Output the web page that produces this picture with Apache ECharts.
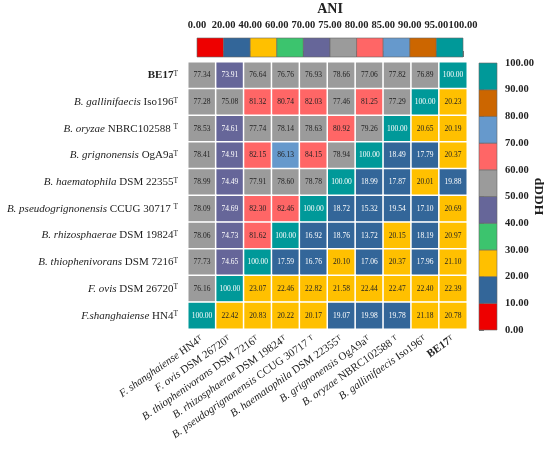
<!DOCTYPE html>
<html><head><meta charset="utf-8">
<script src="https://cdn.jsdelivr.net/npm/echarts@6/dist/echarts.min.js"></script>
<style>html,body{margin:0;padding:0;background:#fff}#c{width:550px;height:453px}</style>
</head><body><div id="c"></div>
<script>
// ---- data ----
const taxonSpecies = ['BE17','B. gallinifaecis','B. oryzae','B. grignonensis','B. haematophila','B. pseudogrignonensis','B. rhizosphaerae','B. thiophenivorans','F. ovis','F.shanghaiense'];
const taxonStrain = ['','Iso196','NBRC102588 ','OgA9a','DSM 22355','CCUG 30717 ','DSM 19824','DSM 7216','DSM 26720','HN4'];
const colSpecies = ['F. shanghaiense','F. ovis','B. thiophenivorans','B. rhizosphaerae','B. pseudogrignonensis','B. haematophila','B. grignonensis','B. oryzae','B. gallinifaecis','BE17'];
const colStrain = ['HN4','DSM 26720','DSM 7216','DSM 19824','CCUG 30717 ','DSM 22355','OgA9a','NBRC102588 ','Iso196',''];

const rowBE17 = [77.34,73.91,76.64,76.76,76.93,78.66,77.06,77.82,76.89,100.00];
const rowGallinifaecis = [77.28,75.08,81.32,80.74,82.03,77.46,81.25,77.29,100.00,20.23];
const rowOryzae = [78.53,74.61,77.74,78.14,78.63,80.92,79.26,100.00,20.65,20.19];
const rowGrignonensis = [78.41,74.91,82.15,86.13,84.15,78.94,100.00,18.49,17.79,20.37];
const rowHaematophila = [78.99,74.49,77.91,78.60,78.78,100.00,18.99,17.87,20.01,19.88];
const rowPseudogrignonensis = [78.09,74.69,82.30,82.46,100.00,18.72,15.32,19.54,17.10,20.69];
const rowRhizosphaerae = [78.06,74.73,81.62,100.00,16.92,18.76,13.72,20.15,18.19,20.97];
const rowThiophenivorans = [77.73,74.65,100.00,17.59,16.76,20.10,17.06,20.37,17.96,21.10];
const rowOvis = [76.16,100.00,23.07,22.46,22.82,21.58,22.44,22.47,22.40,22.39];
const rowShanghaiense = [100.00,22.42,20.83,20.22,20.17,19.07,19.98,19.78,21.18,20.78];
const matrixRows = [rowBE17,rowGallinifaecis,rowOryzae,rowGrignonensis,rowHaematophila,rowPseudogrignonensis,rowRhizosphaerae,rowThiophenivorans,rowOvis,rowShanghaiense];

const aniBreaks = [0,20,40,60,70,75,80,85,90,95,100];
const ddhBreaks = [0,10,20,30,40,50,60,70,80,90,100];
const palette = ['#EE0000','#336699','#FFC000','#3CC46E','#666699','#9B9B9B','#FF6666','#6699CC','#CC6600','#009999'];
const whiteTextBins = [1,4,9];

// ---- build ----
function binOf(v, breaks){ for(let i=0;i<breaks.length-1;i++){ if(v<breaks[i+1]) return i; } return breaks.length-2; }
const n = matrixRows.length;
const aniData = [], ddhData = [];
matrixRows.forEach((row, r) => {
  row.forEach((v, c) => {
    const isAni = c <= n-1-r;
    const b = binOf(v, isAni ? aniBreaks : ddhBreaks);
    const item = {value:[c, r, v], label:{color: whiteTextBins.includes(b) ? '#fff' : '#222'}};
    (isAni ? aniData : ddhData).push(item);
  });
});
function pieces(breaks){ return palette.map((col,i)=> i===palette.length-1 ? {gte:breaks[i], lte:breaks[i+1], color:col} : {gte:breaks[i], lt:breaks[i+1], color:col}); }
function richName(sp, st){
  const s = sp==='BE17' ? '{b|BE17}' : '{i|'+sp+'}' + (st ? '{n| '+st+'}' : '');
  return s + '{s|T}';
}
const FONT = '"Liberation Serif","Times New Roman",serif';
const FS = 11;
const rich = {
  i:{fontStyle:'italic', fontFamily:FONT, fontSize:FS, color:'#222'},
  n:{fontFamily:FONT, fontSize:FS, color:'#222'},
  b:{fontWeight:'bold', fontFamily:FONT, fontSize:FS, color:'#222'},
  s:{fontFamily:FONT, fontSize:7.5, color:'#222', verticalAlign:'top', lineHeight:8}
};

const chart = echarts.init(document.getElementById('c'), null, {renderer:'canvas'});
chart.setOption({
  backgroundColor:'#fff',
  animation:false,
  textStyle:{fontFamily:FONT},
  grid:[
    {left:188, top:62, width:279, height:267, show:true, borderColor:'#000', borderWidth:2, backgroundColor:'transparent', outerBoundsMode:'none', containLabel:false},
    {left:197, top:38, width:266, height:19, outerBoundsMode:'none', containLabel:false},
    {left:479, top:63, width:18, height:267, outerBoundsMode:'none', containLabel:false}
  ],
  xAxis:[
    {gridIndex:0, type:'category', data:colSpecies.map((s,i)=>i), position:'bottom',
     axisLine:{lineStyle:{color:'#000', width:2}},
     axisTick:{alignWithLabel:true, length:5, lineStyle:{color:'#000', width:2}},
     axisLabel:{rotate:35, margin:9, interval:0, formatter:(v,i)=>richName(colSpecies[i], colStrain[i]), rich:rich},
     splitLine:{show:false}},
    {gridIndex:1, type:'value', min:0, max:10, interval:1, position:'top',
     axisLine:{show:false}, splitLine:{show:false},
     axisTick:{show:true, length:6, lineStyle:{color:'#777', width:1}},
     axisLabel:{margin:7, showMinLabel:true, showMaxLabel:true, hideOverlap:false, fontFamily:FONT, fontWeight:'bold', fontSize:10.5, color:'#222', formatter:v=>aniBreaks[v].toFixed(2)},
     name:'ANI', nameLocation:'middle', nameGap:22, nameTextStyle:{fontFamily:FONT, fontWeight:'bold', fontSize:14, color:'#222'}},
    {gridIndex:2, type:'value', min:0, max:1, show:false}
  ],
  yAxis:[
    {gridIndex:0, type:'category', inverse:true, data:taxonSpecies.map((s,i)=>i),
     axisLine:{lineStyle:{color:'#000', width:2}},
     axisTick:{alignWithLabel:true, length:6, lineStyle:{color:'#000', width:2}},
     axisLabel:{margin:10, interval:0, formatter:(v,i)=>richName(taxonSpecies[i], taxonStrain[i]), rich:rich},
     splitLine:{show:false}},
    {gridIndex:1, type:'value', min:0, max:1, show:false},
    {gridIndex:2, type:'value', min:0, max:100, interval:10, position:'right',
     axisLine:{show:false}, splitLine:{show:false},
     axisTick:{show:true, length:5, lineStyle:{color:'#777', width:1}},
     axisLabel:{margin:8, showMinLabel:true, showMaxLabel:true, fontFamily:FONT, fontWeight:'bold', fontSize:10.5, color:'#222', formatter:v=>v.toFixed(2)},
     name:'dDDH', nameLocation:'middle', nameRotate:-90, nameGap:34, nameMoveOverlap:false, nameTextStyle:{fontFamily:FONT, fontWeight:'bold', fontSize:13.5, color:'#222'}}
  ],
  visualMap:[
    {type:'piecewise', show:false, seriesIndex:0, dimension:2, pieces:pieces(aniBreaks)},
    {type:'piecewise', show:false, seriesIndex:1, dimension:2, pieces:pieces(ddhBreaks)}
  ],
  series:[
    {type:'heatmap', xAxisIndex:0, yAxisIndex:0, data:aniData,
     itemStyle:{borderColor:'#fff', borderWidth:1.5},
     label:{show:true, fontFamily:FONT, fontSize:7.5, formatter:p=>p.value[2].toFixed(2)}},
    {type:'heatmap', xAxisIndex:0, yAxisIndex:0, data:ddhData,
     itemStyle:{borderColor:'#fff', borderWidth:1.5},
     label:{show:true, fontFamily:FONT, fontSize:7.5, formatter:p=>p.value[2].toFixed(2)}},
    {type:'custom', xAxisIndex:1, yAxisIndex:1, silent:true,
     data:palette.map((c,i)=>[i, 0.5]),
     renderItem:(params, api)=>{
       const i = api.value(0);
       const p0 = api.coord([i, 0]), p1 = api.coord([i+1, 1]);
       return {type:'rect', shape:{x:p0[0], y:p1[1], width:p1[0]-p0[0], height:p0[1]-p1[1]},
               style:{fill:palette[i], stroke:'#666', lineWidth:0.6}};
     }},
    {type:'custom', xAxisIndex:2, yAxisIndex:2, silent:true,
     data:palette.map((c,i)=>[0.5, ddhBreaks[i]]),
     renderItem:(params, api)=>{
       const i = params.dataIndex;
       const p0 = api.coord([0, ddhBreaks[i]]), p1 = api.coord([1, ddhBreaks[i+1]]);
       return {type:'rect', shape:{x:p0[0], y:p1[1], width:p1[0]-p0[0], height:p0[1]-p1[1]},
               style:{fill:palette[i], stroke:'#666', lineWidth:0.6}};
     }}
  ]
});
</script></body></html>
